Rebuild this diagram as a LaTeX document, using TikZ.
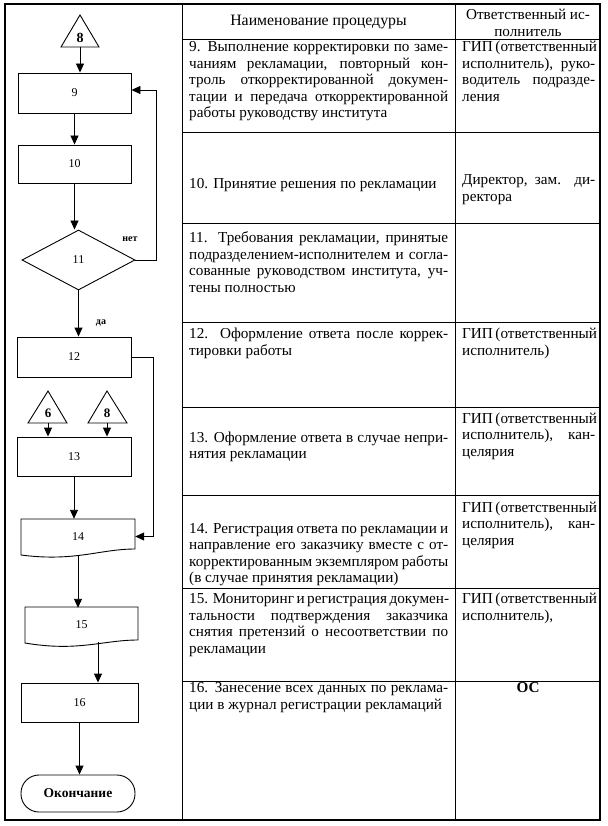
\documentclass[tikz,border=0pt]{standalone}
\usepackage{fontspec}
\setmainfont{Liberation Serif}
\usetikzlibrary{arrows.meta,shapes.geometric}
\newcommand\jA[1]{\makebox[259pt][s]{#1}}
\newcommand\jB[1]{\makebox[133pt][s]{#1}}
\begin{document}
\begin{tikzpicture}[x=1pt,y=-1pt,
  shp/.style={draw,line width=0.9pt},
  lbl/.style={font=\fontsize{12}{13}\selectfont},
  boxn/.style={shp,lbl,inner sep=0pt},
  tlbl/.style={font=\fontsize{13}{14}\selectfont\bfseries},
  arr/.style={line width=0.9pt,-{Triangle[length=9pt,width=8pt]}},
  cell/.style={inner sep=0pt,anchor=base west,font=\fontsize{15.2}{16.6}\selectfont},
  grid/.style={line width=1pt},
  frame/.style={line width=1.8pt}]
\useasboundingbox (0,0) rectangle (607,826);
% frame and table
\draw[frame] (5,4) rectangle (600,820);
\draw[grid] (182,4) -- (182,820);
\draw[grid] (455,4) -- (455,820);
\foreach \yy in {40,133,224,322,407,495,588,681}
  \draw[grid] (182,\yy) -- (600,\yy);
% header
\node[cell,anchor=base,font=\fontsize{15.8}{16.6}\selectfont] (h1) at (318.5,26) {Наименование процедуры};
\node[cell,anchor=base] (h2) at (528,19.5) {\parbox[t]{140pt}{\centering Ответственный ис-\\полнитель}};
% row 9
\node[cell] (r9a) at (189,51.5) {\parbox[t]{259pt}{\jA{9. Выполнение корректировки по заме-}\\ \jA{чаниям рекламации, повторный кон-}\\ \jA{троль откорректированной докумен-}\\ \jA{тации и передача откорректированной}\\ работы руководству института}};
\node[cell] (r9b) at (462,51.5) {\parbox[t]{133pt}{\jB{ГИП (ответственный}\\ \jB{исполнитель), руко-}\\ \jB{водитель подразде-}\\ ления}};
% row 10
\node[cell] (r10a) at (189,189) {10. Принятие решения по рекламации};
\node[cell] (r10b) at (462,185) {\parbox[t]{133pt}{\jB{Директор, зам. ди-}\\ ректора}};
% row 11
\node[cell] (r11a) at (189,242.5) {\parbox[t]{259pt}{\jA{11. Требования рекламации, принятые}\\ \jA{подразделением-исполнителем и согла-}\\ \jA{сованные руководством института, уч-}\\ тены полностью}};
% row 12
\node[cell] (r12a) at (189,338.5) {\parbox[t]{259pt}{\jA{12. Оформление ответа после коррек-}\\ тировки работы}};
\node[cell] (r12b) at (462,338.5) {\parbox[t]{133pt}{\jB{ГИП (ответственный}\\ исполнитель)}};
% row 13
\node[cell] (r13a) at (189,442) {\parbox[t]{259pt}{\jA{13. Оформление ответа в случае непри-}\\ нятия рекламации}};
\node[cell] (r13b) at (462,423) {\parbox[t]{133pt}{\jB{ГИП (ответственный}\\ \jB{исполнитель), кан-}\\ целярия}};
% row 14
\node[cell] (r14a) at (189,533) {\parbox[t]{259pt}{\jA{14. Регистрация ответа по рекламации и}\\ \jA{направление его заказчику вместе с от-}\\ \jA{корректированным экземпляром работы}\\ (в случае принятия рекламации)}};
\node[cell] (r14b) at (462,512) {\parbox[t]{133pt}{\jB{ГИП (ответственный}\\ \jB{исполнитель), кан-}\\ целярия}};
% row 15
\node[cell] (r15a) at (189,603.5) {\parbox[t]{259pt}{\jA{15. Мониторинг и регистрация докумен-}\\ \jA{тальности подтверждения заказчика}\\ \jA{снятия претензий о несоответствии по}\\ рекламации}};
\node[cell] (r15b) at (462,603.5) {\parbox[t]{133pt}{\jB{ГИП (ответственный}\\ исполнитель),}};
% row 16
\node[cell] (r16a) at (189,692.5) {\parbox[t]{259pt}{\jA{16. Занесение всех данных по реклама-}\\ ции в журнал регистрации рекламаций}};
\node[cell,anchor=base] (r16b) at (528,692.5) {\textbf{ОС}};
% flowchart
\draw[shp] (80,15) -- (61,47) -- (99,47) -- cycle;
\node[tlbl,font=\fontsize{14}{15}\selectfont\bfseries] (t8) at (80,38) {8};
\coordinate (t8b) at (80,47);
\node[boxn,minimum width=113pt,minimum height=40pt] (b9) at (74.5,93) {9};
\node[boxn,minimum width=113pt,minimum height=38pt] (b10) at (74.5,164) {10};
\node[boxn,diamond,minimum width=113pt,minimum height=60pt] (d11) at (78.5,260) {11};
\node[font=\fontsize{10}{12}\selectfont\bfseries] (no) at (130,239) {нет};
\node[font=\fontsize{10}{12}\selectfont\bfseries] (yes) at (101,323) {да};
\node[boxn,minimum width=114pt,minimum height=40pt] (b12) at (74,357) {12};
\draw[shp] (48,391) -- (28,423) -- (67,423) -- cycle;
\node[tlbl] (t6) at (48,413) {6};
\coordinate (t6b) at (48,423);
\draw[shp] (107,391) -- (88,423) -- (127,423) -- cycle;
\node[tlbl] (t8c) at (107,413) {8};
\coordinate (t8cb) at (107,423);
\node[boxn,minimum width=114pt,minimum height=39pt] (b13) at (74,456.5) {13};
\draw[shp] (21,519) -- (135,519) -- (135,549) .. controls (100,549) and (75,562) .. (21,555) -- cycle;
\node[lbl,inner sep=0pt,minimum width=114pt,minimum height=35pt] (b14) at (78,536.5) {14};
\draw[shp] (25,607) -- (138,607) -- (138,640) .. controls (103,640) and (78,652) .. (25,643) -- cycle;
\node[lbl,inner sep=0pt,minimum width=113pt,minimum height=35pt] (b15) at (81.5,624.5) {15};
\node[boxn,minimum width=117pt,minimum height=39pt] (b16) at (79.5,702.5) {16};
\node[shp,rounded corners=18pt,minimum width=114pt,minimum height=37pt,inner sep=0pt,font=\fontsize{13.5}{15}\selectfont\bfseries] (end) at (78,793.5) {Окончание};
% connectors
\draw[arr] (t8b) -- (t8b |- b9.north);
\draw[arr] (b9.south) -- (b10.north);
\draw[arr] (b10.south) -- (b10.south |- d11.north);
\draw[arr] (d11.east) -| ([xshift=25pt,yshift=3pt]b9.east) -- ([yshift=3pt]b9.east);
\draw[arr] (d11.south) -- (d11.south |- b12.north);
\draw[arr] (b12.east) -- ++(22,0) |- (b14.east);
\draw[arr] (t6b) -- (t6b |- b13.north);
\draw[arr] (t8cb) -- (t8cb |- b13.north);
\draw[arr] (b13.south) -- (b13.south |- b14.north);
\draw[arr] ([yshift=-1pt]b14.south) -- ([yshift=-1pt]b14.south |- b15.north);
\draw[arr] ([xshift=16.5pt]b15.south) -- ([xshift=16.5pt]b15.south |- b16.north);
\draw[arr] (b16.south) -- (b16.south |- end.north);
\end{tikzpicture}
\end{document}
